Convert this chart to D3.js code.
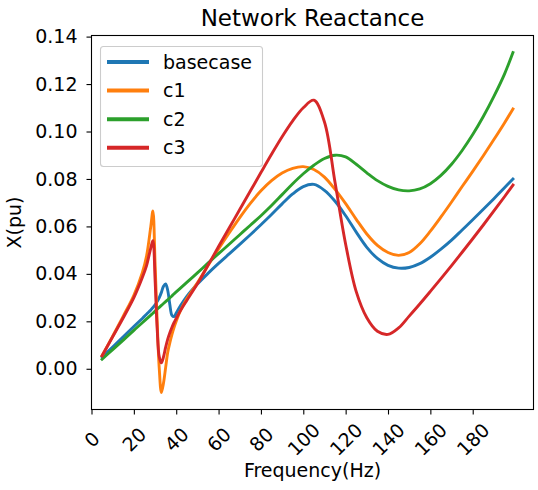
<!DOCTYPE html>
<html>
<head>
<meta charset="utf-8">
<script src="https://cdnjs.cloudflare.com/ajax/libs/d3/7.8.5/d3.min.js"></script>
<style>
  body { margin: 0; background: #fff; }
  svg text { font-family: "DejaVu Sans", sans-serif; fill: #000; }
</style>
</head>
<body>
<svg id="chart" width="538" height="490"></svg>
<script>
// frequency samples (Hz), denser around the first resonance
var freq = [5, 10, 15, 20, 24, 26, 28, 29, 30, 31, 32, 33, 34, 35, 36, 37, 38, 39, 40, 42, 45,
  50, 55, 60, 65, 70, 75, 80, 85, 90, 95, 100, 105, 110, 115, 120, 125, 130, 135, 140, 145,
  150, 155, 160, 165, 170, 175, 180, 185, 190, 195, 199];

var basecase = [0.0050, 0.0092, 0.0135, 0.0178, 0.0212, 0.0230, 0.0248, 0.0258, 0.0269, 0.0283,
  0.0300, 0.0322, 0.0348, 0.0358, 0.0330, 0.0270, 0.0225, 0.0220, 0.0235, 0.0265, 0.0305,
  0.0357, 0.0402, 0.0444, 0.0484, 0.0524, 0.0565, 0.0607, 0.0650, 0.0695, 0.0737, 0.0768, 0.0777,
  0.0752, 0.0706, 0.0645, 0.0576, 0.0512, 0.0465, 0.0436, 0.0424,
  0.0427, 0.0443, 0.0470, 0.0504, 0.0542, 0.0585, 0.0628, 0.0672, 0.0717, 0.0763, 0.0800];

var c1 = [0.0055, 0.0137, 0.0222, 0.0310, 0.0405, 0.0475, 0.0600, 0.0665, 0.0450, 0.0200,
  0.0000, -0.0100, -0.0060, 0.0005, 0.0070, 0.0110, 0.0145, 0.0175, 0.0200, 0.0245, 0.0295,
  0.0362, 0.0435, 0.0505, 0.0572, 0.0637, 0.0697, 0.0750, 0.0793, 0.0825, 0.0845, 0.0852, 0.0840,
  0.0808, 0.0756, 0.0696, 0.0630, 0.0568, 0.0520, 0.0490, 0.0478,
  0.0490, 0.0527, 0.0580, 0.0640, 0.0703, 0.0768, 0.0832, 0.0898, 0.0966, 0.1036, 0.1095];

var c2 = [0.0040, 0.0081, 0.0121, 0.0162, 0.0194, 0.0210, 0.0226, 0.0234, 0.0243, 0.0251,
  0.0259, 0.0267, 0.0275, 0.0283, 0.0291, 0.0299, 0.0307, 0.0316, 0.0324, 0.0340, 0.0364,
  0.0404, 0.0445, 0.0485, 0.0525, 0.0565, 0.0605, 0.0645, 0.0688, 0.0734, 0.0780, 0.0822, 0.0858,
  0.0886, 0.0900, 0.0893, 0.0862, 0.0826, 0.0793, 0.0769, 0.0754,
  0.0750, 0.0758, 0.0780, 0.0815, 0.0862, 0.0920, 0.0987, 0.1063, 0.1148, 0.1242, 0.1333];

var c3 = [0.0055, 0.0135, 0.0215, 0.0300, 0.0385, 0.0435, 0.0510, 0.0540, 0.0380, 0.0170,
  0.0050, 0.0025, 0.0050, 0.0090, 0.0125, 0.0152, 0.0175, 0.0195, 0.0212, 0.0245, 0.0288,
  0.0358, 0.0436, 0.0515, 0.0593, 0.0671, 0.0749, 0.0827, 0.0904, 0.0978, 0.1045, 0.1100, 0.1132,
  0.1040, 0.0785, 0.0525, 0.0325, 0.0215, 0.0158, 0.0145, 0.0172,
  0.0222, 0.0273, 0.0326, 0.0380, 0.0435, 0.0491, 0.0548, 0.0606, 0.0665, 0.0725, 0.0774];

var seriesNames = ['basecase', 'c1', 'c2', 'c3'];
var seriesColors = ['#1f77b4', '#ff7f0e', '#2ca02c', '#d62728'];
var xTicks = [0, 20, 40, 60, 80, 100, 120, 140, 160, 180];
var yTicks = [0.00, 0.02, 0.04, 0.06, 0.08, 0.10, 0.12, 0.14];

var series = [basecase, c1, c2, c3].map(function(vals, i) {
  return { name: seriesNames[i], color: seriesColors[i],
    points: freq.map(function(f, j) { return [f, vals[j]]; }) };
});

// plot box
var boxLeft = 91.5, boxRight = 533.5, boxTop = 35.5, boxBottom = 409.5;

var svg = d3.select('svg#chart');

// autoscale with 5% margin like matplotlib, x starts at 0
var fMin = d3.min(freq), fMax = d3.max(freq);
var allVals = d3.merge([basecase, c1, c2, c3]);
var vMin = d3.min(allVals), vMax = d3.max(allVals);
var x = d3.scaleLinear()
    .domain([0, fMax + 0.05 * (fMax - fMin)])
    .range([boxLeft, boxRight]);
var y = d3.scaleLinear()
    .domain([vMin - 0.05 * (vMax - vMin), vMax + 0.05 * (vMax - vMin)])
    .range([boxBottom, boxTop]);

// lines
var line = d3.line()
    .x(function(d) { return x(d[0]); })
    .y(function(d) { return y(d[1]); })
    .curve(d3.curveCatmullRom.alpha(0.5));

svg.append('g')
    .selectAll('path')
    .data(series)
    .enter()
    .append('path')
    .attr('d', function(d) { return line(d.points); })
    .attr('fill', 'none')
    .attr('stroke', function(d) { return d.color; })
    .attr('stroke-width', 2.9)
    .attr('stroke-linecap', 'square')
    .attr('stroke-linejoin', 'round');

// axes
var xAxis = svg.append('g')
    .attr('transform', 'translate(0,' + boxBottom + ')')
    .call(d3.axisBottom(x).tickValues(xTicks).tickSizeOuter(0).tickSize(5).tickFormat(d3.format('d')));
xAxis.select('.domain').remove();
xAxis.selectAll('.tick line').attr('stroke', '#000').attr('stroke-width', 1.1);
xAxis.selectAll('.tick text')
    .attr('font-size', 19)
    .attr('text-anchor', 'middle')
    .attr('y', 0)
    .attr('dy', '0.35em')
    .attr('transform', 'translate(0,30) rotate(-45)');

var yAxis = svg.append('g')
    .attr('transform', 'translate(' + boxLeft + ',0)')
    .call(d3.axisLeft(y).tickValues(yTicks).tickSizeOuter(0).tickSize(5).tickPadding(9).tickFormat(d3.format('.2f')));
yAxis.select('.domain').remove();
yAxis.selectAll('.tick line').attr('stroke', '#000').attr('stroke-width', 1.1);
yAxis.selectAll('.tick text').attr('font-size', 19);

// frame
svg.append('rect')
    .attr('x', boxLeft)
    .attr('y', boxTop)
    .attr('width', boxRight - boxLeft)
    .attr('height', boxBottom - boxTop)
    .attr('fill', 'none')
    .attr('stroke', '#000')
    .attr('stroke-width', 1.1);

// title and labels
svg.append('text')
    .attr('x', (boxLeft + boxRight) / 2)
    .attr('y', 26)
    .attr('text-anchor', 'middle')
    .attr('font-size', 23)
    .text('Network Reactance');

svg.append('text')
    .attr('x', (boxLeft + boxRight) / 2)
    .attr('y', 477)
    .attr('text-anchor', 'middle')
    .attr('font-size', 19)
    .text('Frequency(Hz)');

svg.append('text')
    .attr('transform', 'translate(21,' + (boxTop + boxBottom) / 2 + ') rotate(-90)')
    .attr('text-anchor', 'middle')
    .attr('font-size', 19)
    .text('X(pu)');

// legend
var legend = svg.append('g');
legend.append('rect')
    .attr('x', 100.5)
    .attr('y', 46.5)
    .attr('width', 162)
    .attr('height', 120)
    .attr('rx', 3)
    .attr('fill', '#fff')
    .attr('fill-opacity', 0.8)
    .attr('stroke', '#cccccc')
    .attr('stroke-width', 1.1);

var rows = legend.selectAll('g.row')
    .data(series)
    .enter()
    .append('g')
    .attr('class', 'row')
    .attr('transform', function(d, i) { return 'translate(0,' + (62 + i * 28.6) + ')'; });
rows.append('line')
    .attr('x1', 107)
    .attr('x2', 149)
    .attr('stroke', function(d) { return d.color; })
    .attr('stroke-width', 4);
rows.append('text')
    .attr('x', 163)
    .attr('dy', '0.35em')
    .attr('font-size', 19)
    .text(function(d) { return d.name; });
</script>
</body>
</html>
